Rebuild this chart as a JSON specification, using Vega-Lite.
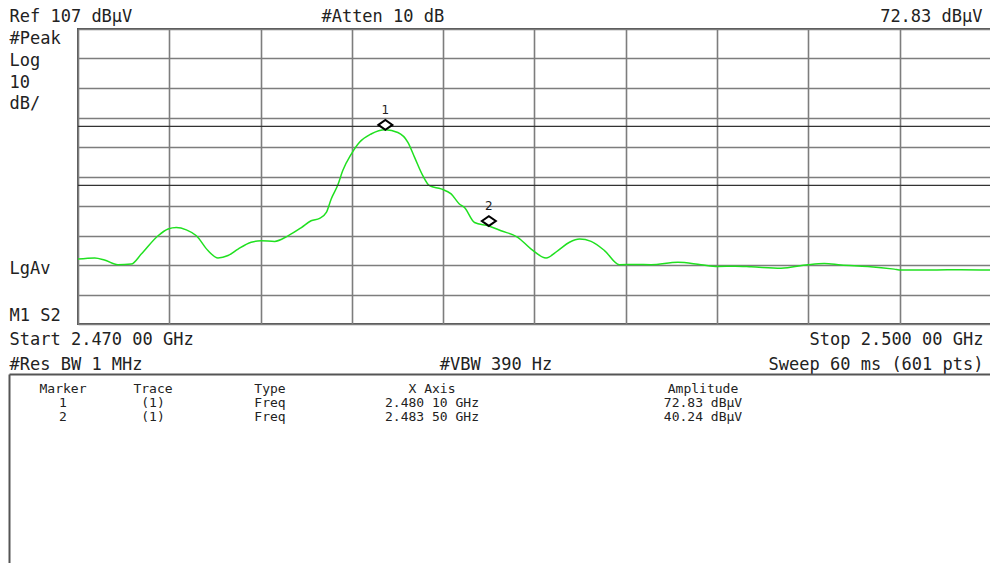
{
  "$schema": "https://vega.github.io/schema/vega-lite/v6.json",
  "background": "white",
  "padding": {"left": 8, "top": 6, "right": 0, "bottom": 0},
  "spacing": 0,
  "config": {
    "view": {"stroke": "#555555", "strokeWidth": 2},
    "axis": {"labelFont": "DejaVu Sans Mono", "labelFontSize": 17, "labelColor": "#222222", "ticks": false, "domain": false, "tickSize": 0, "labelFlush": false, "labelOverlap": false, "labelBound": false, "labelLimit": 1000, "gridColor": "#7d7d7d", "gridWidth": 1.6, "gridOpacity": 1, "minExtent": 0}
  },
  "datasets": {
    "trace": [
      {"freq": 2.47000, "amp": 29.0},
      {"freq": 2.47055, "amp": 29.4},
      {"freq": 2.47087, "amp": 28.7},
      {"freq": 2.47131, "amp": 27.1},
      {"freq": 2.47175, "amp": 27.3},
      {"freq": 2.47208, "amp": 30.7},
      {"freq": 2.47263, "amp": 36.9},
      {"freq": 2.47296, "amp": 39.2},
      {"freq": 2.47323, "amp": 39.7},
      {"freq": 2.47356, "amp": 38.9},
      {"freq": 2.47389, "amp": 36.9},
      {"freq": 2.47427, "amp": 31.9},
      {"freq": 2.47460, "amp": 29.4},
      {"freq": 2.47493, "amp": 30.2},
      {"freq": 2.47526, "amp": 32.4},
      {"freq": 2.47569, "amp": 34.7},
      {"freq": 2.47602, "amp": 35.2},
      {"freq": 2.47646, "amp": 35.0},
      {"freq": 2.47690, "amp": 36.9},
      {"freq": 2.47734, "amp": 39.7},
      {"freq": 2.47766, "amp": 42.0},
      {"freq": 2.47794, "amp": 42.8},
      {"freq": 2.47816, "amp": 44.8},
      {"freq": 2.47832, "amp": 49.4},
      {"freq": 2.47854, "amp": 54.2},
      {"freq": 2.47870, "amp": 59.0},
      {"freq": 2.47898, "amp": 64.6},
      {"freq": 2.47925, "amp": 68.6},
      {"freq": 2.47963, "amp": 71.4},
      {"freq": 2.48010, "amp": 72.83},
      {"freq": 2.48051, "amp": 71.9},
      {"freq": 2.48084, "amp": 68.6},
      {"freq": 2.48106, "amp": 63.5},
      {"freq": 2.48133, "amp": 57.3},
      {"freq": 2.48155, "amp": 53.9},
      {"freq": 2.48193, "amp": 52.8},
      {"freq": 2.48226, "amp": 51.1},
      {"freq": 2.48253, "amp": 47.7},
      {"freq": 2.48270, "amp": 46.5},
      {"freq": 2.48303, "amp": 41.4},
      {"freq": 2.48350, "amp": 40.24},
      {"freq": 2.48390, "amp": 38.6},
      {"freq": 2.48445, "amp": 36.4},
      {"freq": 2.48489, "amp": 32.4},
      {"freq": 2.48538, "amp": 29.4},
      {"freq": 2.48577, "amp": 31.9},
      {"freq": 2.48615, "amp": 34.7},
      {"freq": 2.48648, "amp": 35.8},
      {"freq": 2.48686, "amp": 35.0},
      {"freq": 2.48730, "amp": 31.9},
      {"freq": 2.48779, "amp": 27.1},
      {"freq": 2.48830, "amp": 27.2},
      {"freq": 2.48883, "amp": 27.1},
      {"freq": 2.48971, "amp": 27.9},
      {"freq": 2.49047, "amp": 27.1},
      {"freq": 2.49102, "amp": 26.5},
      {"freq": 2.49160, "amp": 26.6},
      {"freq": 2.49212, "amp": 26.4},
      {"freq": 2.49310, "amp": 25.9},
      {"freq": 2.49398, "amp": 27.1},
      {"freq": 2.49452, "amp": 27.5},
      {"freq": 2.49507, "amp": 27.0},
      {"freq": 2.49595, "amp": 26.5},
      {"freq": 2.49682, "amp": 25.6},
      {"freq": 2.49704, "amp": 25.3},
      {"freq": 2.49814, "amp": 25.3},
      {"freq": 2.49900, "amp": 25.4},
      {"freq": 2.50000, "amp": 25.3}
    ],
    "limits": [{"level": 74}, {"level": 54}],
    "markers": [
      {"marker": "1", "freq": 2.4801, "amp": 72.83},
      {"marker": "2", "freq": 2.4835, "amp": 40.24}
    ],
    "readout": [
      {"row": "header", "marker": "Marker", "trace": "Trace", "type": "Type", "xaxis": "X Axis", "amplitude": "Amplitude"},
      {"row": "1", "marker": "1", "trace": "(1)", "type": "Freq", "xaxis": "2.480 10 GHz", "amplitude": "72.83 dBμV"},
      {"row": "2", "marker": "2", "trace": "(1)", "type": "Freq", "xaxis": "2.483 50 GHz", "amplitude": "40.24 dBμV"}
    ]
  },
  "vconcat": [
    {
      "width": 913,
      "height": 295,
      "resolve": {"axis": {"x": "independent", "y": "independent"}},
      "layer": [
        {
          "data": {"name": "trace"},
          "mark": {"type": "line", "color": "#20e020", "strokeWidth": 1.5, "interpolate": "monotone"},
          "encoding": {
            "x": {"field": "freq", "type": "quantitative", "scale": {"domain": [2.47, 2.5], "nice": false, "zero": false},
              "axis": {"orient": "bottom", "title": null, "grid": false, "values": [2.47, 2.48372, 2.5],
                "labelExpr": "datum.value < 2.471 ? ['Start 2.470 00 GHz', '#Res BW 1 MHz'] : (datum.value > 2.499 ? ['Stop 2.500 00 GHz', 'Sweep 60 ms (601 pts)'] : ['', '#VBW 390 Hz'])",
                "labelAlign": {"condition": [{"test": "datum.value < 2.471", "value": "left"}, {"test": "datum.value > 2.499", "value": "right"}], "value": "center"},
                "labelOffset": {"condition": [{"test": "datum.value < 2.471", "value": -69}, {"test": "datum.value > 2.499", "value": -8}], "value": 0},
                "labelBaseline": "alphabetic", "labelPadding": 20, "labelLineHeight": 25}},
            "y": {"field": "amp", "type": "quantitative", "scale": {"domain": [7, 107], "nice": false, "zero": false},
              "axis": {"orient": "left", "title": null, "grid": false, "values": [102, 94.6, 87.1, 80, 24, 8.1],
                "labelExpr": "datum.value > 100 ? '#Peak' : (datum.value > 90 ? 'Log' : (datum.value > 85 ? '10' : (datum.value > 70 ? 'dB/' : (datum.value > 20 ? 'LgAv' : 'M1  S2'))))",
                "labelAlign": "left", "labelBaseline": "alphabetic", "labelPadding": 69}}
          }
        },
        {
          "data": {"name": "limits"},
          "mark": {"type": "rule", "color": "#333333", "strokeWidth": 1.3},
          "encoding": {
            "y": {"field": "level", "type": "quantitative",
              "axis": {"orient": "right", "title": null, "labels": false, "grid": true, "values": [7, 17, 27, 37, 47, 57, 67, 77, 87, 97, 107]}}
          }
        },
        {
          "data": {"name": "markers"},
          "mark": {"type": "point", "shape": "M -1 -0.7 L 0 -1.4 L 1 -0.7 L 0 0 Z", "size": 196, "filled": true, "fill": "white", "stroke": "black", "strokeWidth": 2, "opacity": 1},
          "encoding": {
            "x": {"field": "freq", "type": "quantitative",
              "axis": {"orient": "top", "title": null, "grid": false, "values": [2.47, 2.48, 2.5],
                "labelExpr": "datum.value < 2.471 ? 'Ref 107 dBμV' : (datum.value > 2.499 ? '72.83 dBμV' : '#Atten 10 dB')",
                "labelAlign": {"condition": [{"test": "datum.value < 2.471", "value": "left"}, {"test": "datum.value > 2.499", "value": "right"}], "value": "center"},
                "labelOffset": {"condition": [{"test": "datum.value < 2.471", "value": -69}, {"test": "datum.value > 2.499", "value": -9}], "value": 0},
                "labelBaseline": "alphabetic", "labelPadding": 8}},
            "y": {"field": "amp", "type": "quantitative", "axis": null}
          }
        },
        {
          "data": {"name": "markers"},
          "mark": {"type": "text", "dy": -20, "fontSize": 12, "font": "DejaVu Sans", "color": "#222222", "baseline": "middle"},
          "encoding": {
            "x": {"field": "freq", "type": "quantitative",
              "axis": {"orient": "top", "title": null, "labels": false, "grid": true, "values": [2.47, 2.473, 2.476, 2.479, 2.482, 2.485, 2.488, 2.491, 2.494, 2.497, 2.5]}},
            "y": {"field": "amp", "type": "quantitative", "axis": null},
            "text": {"field": "marker"}
          }
        }
      ]
    },
    {
      "width": 913,
      "height": 200,
      "view": {"stroke": null},
      "data": {"name": "readout"},
      "encoding": {
        "y": {"field": "row", "type": "ordinal",
          "scale": {"type": "point", "domain": ["header", "1", "2"], "range": [19, 47], "padding": 0},
          "axis": null}
      },
      "layer": [
        {
          "mark": {"type": "text", "font": "DejaVu Sans Mono", "fontSize": 13, "color": "#222222", "baseline": "alphabetic"},
          "encoding": {
            "x": {"datum": 1, "type": "quantitative",
              "scale": {"domain": [0, 1, 2, 3, 4, 5, 6], "range": [-69, -15, 75, 192, 354, 625, 913]},
              "axis": {"orient": "top", "title": null, "labels": false, "grid": false, "domain": true, "domainColor": "#555555", "domainWidth": 2, "ticks": true, "tickSize": -200, "tickWidth": 2, "tickColor": "#555555", "values": [0]}},
            "text": {"field": "marker"}
          }
        },
        {
          "mark": {"type": "text", "font": "DejaVu Sans Mono", "fontSize": 13, "color": "#222222", "baseline": "alphabetic"},
          "encoding": {
            "x": {"datum": 2, "type": "quantitative",
              "scale": {"domain": [0, 1, 2, 3, 4, 5, 6], "range": [-69, -15, 75, 192, 354, 625, 913]},
              "axis": {"orient": "top", "title": null, "labels": false, "grid": false, "domain": true, "domainColor": "#555555", "domainWidth": 2, "ticks": true, "tickSize": -200, "tickWidth": 2, "tickColor": "#555555", "values": [0]}},
            "text": {"field": "trace"}
          }
        },
        {
          "mark": {"type": "text", "font": "DejaVu Sans Mono", "fontSize": 13, "color": "#222222", "baseline": "alphabetic"},
          "encoding": {
            "x": {"datum": 3, "type": "quantitative",
              "scale": {"domain": [0, 1, 2, 3, 4, 5, 6], "range": [-69, -15, 75, 192, 354, 625, 913]},
              "axis": {"orient": "top", "title": null, "labels": false, "grid": false, "domain": true, "domainColor": "#555555", "domainWidth": 2, "ticks": true, "tickSize": -200, "tickWidth": 2, "tickColor": "#555555", "values": [0]}},
            "text": {"field": "type"}
          }
        },
        {
          "mark": {"type": "text", "font": "DejaVu Sans Mono", "fontSize": 13, "color": "#222222", "baseline": "alphabetic"},
          "encoding": {
            "x": {"datum": 4, "type": "quantitative",
              "scale": {"domain": [0, 1, 2, 3, 4, 5, 6], "range": [-69, -15, 75, 192, 354, 625, 913]},
              "axis": {"orient": "top", "title": null, "labels": false, "grid": false, "domain": true, "domainColor": "#555555", "domainWidth": 2, "ticks": true, "tickSize": -200, "tickWidth": 2, "tickColor": "#555555", "values": [0]}},
            "text": {"field": "xaxis"}
          }
        },
        {
          "mark": {"type": "text", "font": "DejaVu Sans Mono", "fontSize": 13, "color": "#222222", "baseline": "alphabetic"},
          "encoding": {
            "x": {"datum": 5, "type": "quantitative",
              "scale": {"domain": [0, 1, 2, 3, 4, 5, 6], "range": [-69, -15, 75, 192, 354, 625, 913]},
              "axis": {"orient": "top", "title": null, "labels": false, "grid": false, "domain": true, "domainColor": "#555555", "domainWidth": 2, "ticks": true, "tickSize": -200, "tickWidth": 2, "tickColor": "#555555", "values": [0]}},
            "text": {"field": "amplitude"}
          }
        }
      ]
    }
  ]
}
